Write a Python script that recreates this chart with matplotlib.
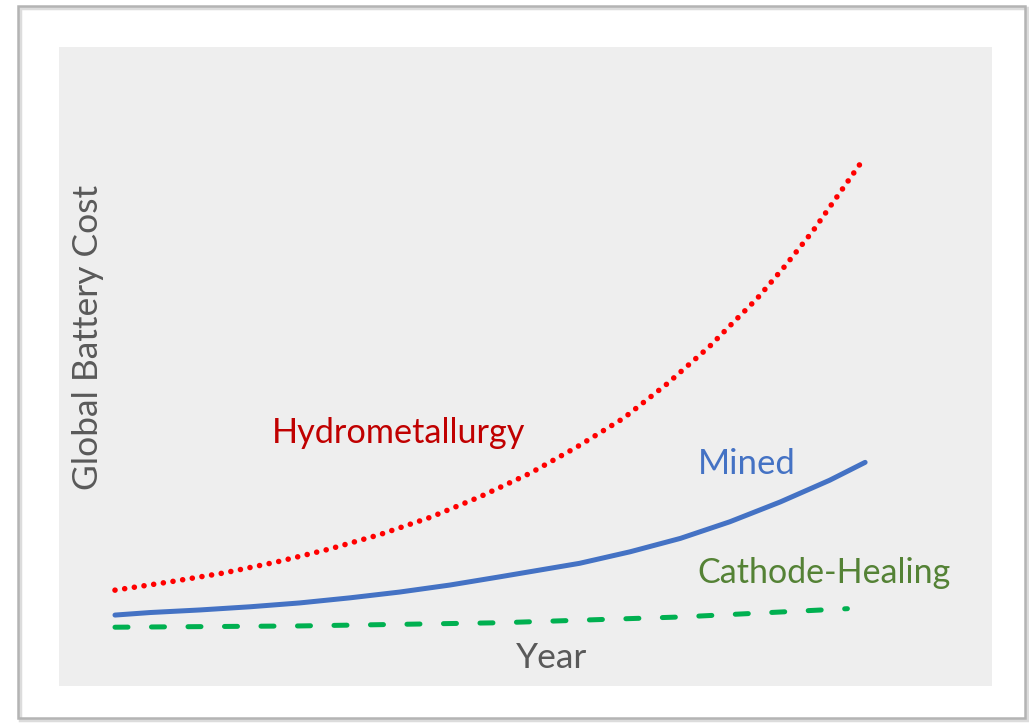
import matplotlib
matplotlib.use('Agg')
import matplotlib.pyplot as plt
from matplotlib.patches import Rectangle

# values (arbitrary units, no ticks shown)
years_hydro = [6.0, 11.9, 17.7, 23.3, 28.9, 34.4, 39.8, 45.1, 50.5, 55.5, 60.5, 65.1,
               69.7, 72.2, 74.8, 77.8, 80.8, 83.5, 86.3]
cost_hydro = [15.0, 16.3, 17.7, 19.4, 21.4, 23.7, 26.4, 29.6, 33.3, 37.4, 41.9, 47.2,
              53.1, 56.8, 60.6, 65.7, 71.2, 76.8, 82.6]

years_mined = [6.0, 9.8, 15.1, 20.5, 25.8, 31.2, 36.5, 41.9, 47.3, 55.8, 61.2, 66.6,
               71.9, 77.3, 82.6, 86.4]
cost_mined = [11.1, 11.5, 11.9, 12.4, 13.0, 13.8, 14.7, 15.8, 17.1, 19.2, 21.0, 23.1,
              25.7, 28.8, 32.2, 35.0]

years_heal = [6.0, 25.8, 47.3, 66.6, 84.5]
cost_heal = [9.2, 9.4, 9.9, 10.8, 12.1]

plt.rcParams['font.family'] = ['Lato', 'DejaVu Sans']

fig = plt.figure(figsize=(10.29, 7.24), dpi=100)
fig.patch.set_facecolor('white')

# outer frame with a faint shadow
shadow = Rectangle((20 / 1029, 4 / 724), 1007 / 1029, 712 / 724, transform=fig.transFigure,
                   fill=False, edgecolor='#dcdcdc', lw=2.5)
frame = Rectangle((18 / 1029, 6 / 724), 1007 / 1029, 712 / 724, transform=fig.transFigure,
                  fill=False, edgecolor='#b4b4b4', lw=1.8)
fig.patches.extend([shadow, frame])

ax = fig.add_axes([59 / 1029, 38 / 724, 933 / 1029, 639 / 724])
ax.set_facecolor('#eeeeee')
for s in ax.spines.values():
    s.set_visible(False)
ax.set_xticks([])
ax.set_yticks([])
ax.set_xlim(0, 100)
ax.set_ylim(0, 100)

ax.plot(years_hydro, cost_hydro, color='#ff0000', lw=4, linestyle=(0, (0.01, 1.75)),
        dash_capstyle='round', solid_capstyle='round')
ax.plot(years_mined, cost_mined, color='#4472c4', lw=3.6, solid_capstyle='round')
ax.plot(years_heal, cost_heal, color='#00b050', lw=3.6, linestyle=(0, (2.6, 4.7)),
        dash_capstyle='round')

ax.text(22.8, 39.6, 'Hydrometallurgy', color='#c00000', fontsize=24.7, va='center', ha='left')
ax.text(68.5, 34.7, 'Mined', color='#4472c4', fontsize=25, va='center', ha='left')
ax.text(68.4, 17.7, 'Cathode-Healing', color='#548235', fontsize=24.5, va='center', ha='left')
ax.text(52.8, 4.4, 'Year', color='#595959', fontsize=25.5, va='center', ha='center')
ax.text(3.1, 54.6, 'Global Battery Cost', color='#595959', fontsize=25.5, va='center',
        ha='center', rotation=90)

plt.savefig('out.png', dpi=100, facecolor='white')
